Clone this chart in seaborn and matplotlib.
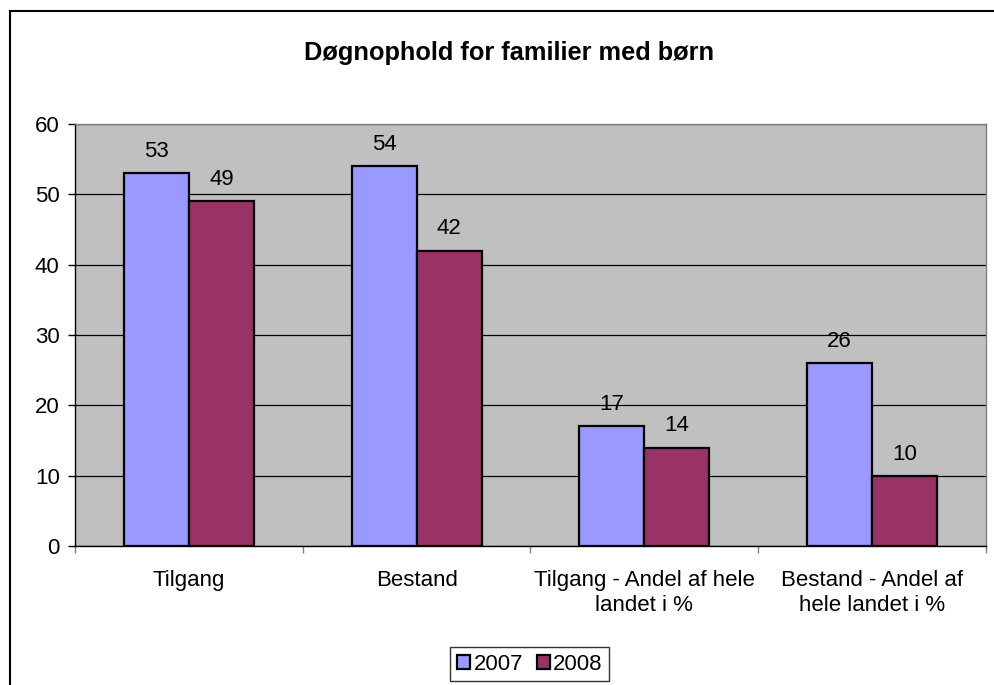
import numpy as np
import pandas as pd
import seaborn as sns
import matplotlib.pyplot as plt
from matplotlib.patches import Rectangle
from matplotlib.ticker import FixedLocator

categories = ['Tilgang', 'Bestand', 'Tilgang - Andel af hele\nlandet i %', 'Bestand - Andel af\nhele landet i %']
years = ['2007', '2008']
values_2007 = [53, 54, 17, 26]
values_2008 = [49, 42, 14, 10]
colors = ['#9999FF', '#993366']

df = pd.DataFrame({
    'kategori': categories * 2,
    'aar': [years[0]] * 4 + [years[1]] * 4,
    'antal': values_2007 + values_2008,
})

sns.set_theme(style='white')
plt.rcParams['font.family'] = ['Liberation Sans', 'DejaVu Sans']
plt.rcParams['text.color'] = 'black'
plt.rcParams['xtick.color'] = 'black'
plt.rcParams['ytick.color'] = 'black'

fs = 16

fig = plt.figure(figsize=(9.95, 6.85), dpi=100)
ax = fig.add_axes([75 / 995, 1 - 546 / 685, 911 / 995, 422 / 685])

sns.barplot(data=df, x='kategori', y='antal', hue='aar', palette=colors,
            width=2 / 3.5, edgecolor='black', linewidth=1.6, ax=ax,
            saturation=1, legend=True)

ax.set_facecolor('#C0C0C0')
ax.set_ylim(0, 60)
ax.set_xlim(-0.5, 3.5)
ax.set_yticks(np.arange(0, 61, 10))
ax.yaxis.grid(True, color='black', linewidth=0.9)
ax.set_axisbelow(True)
ax.set_xlabel('')
ax.set_ylabel('')

for c in ax.containers:
    ax.bar_label(c, padding=8, fontsize=fs)

ax.tick_params(axis='y', which='major', left=True, length=5, width=1,
               color='black', labelsize=fs, pad=6)
ax.tick_params(axis='x', which='major', bottom=False, labelsize=fs, pad=11)
for lbl in ax.get_xticklabels():
    lbl.set_linespacing(1.25)
ax.xaxis.set_minor_locator(FixedLocator([-0.5, 0.5, 1.5, 2.5, 3.5]))
ax.tick_params(axis='x', which='minor', bottom=True, length=5, width=1, color='#808080')

for side in ['top', 'right']:
    ax.spines[side].set_color('#808080')
    ax.spines[side].set_linewidth(1)
ax.spines['left'].set_color('black')
ax.spines['bottom'].set_color('black')
ax.spines['left'].set_linewidth(1)
ax.spines['bottom'].set_linewidth(1)

fig.text(509 / 995, 1 - 53 / 685, 'Døgnophold for familier med børn',
         ha='center', va='center', fontsize=18.3, fontweight='bold')

ax.legend_.remove()
handles = [Rectangle((0, 0), 1, 1, facecolor=col, edgecolor='black', linewidth=1.6) for col in colors]
leg = fig.legend(handles, years, loc='center', bbox_to_anchor=(530 / 995, 1 - 664 / 685),
                 ncol=2, frameon=True, fancybox=False, fontsize=fs,
                 handlelength=0.6, handleheight=0.6, handletextpad=0.15,
                 columnspacing=0.6, borderpad=0.3)
leg.get_frame().set_edgecolor('black')
leg.get_frame().set_linewidth(1)

fig.patches.append(Rectangle((10 / 995, -0.1), 1.2, 1 - 11 / 685 + 0.1,
                             transform=fig.transFigure, fill=False,
                             edgecolor='black', linewidth=1.5))

fig.savefig('out.png', dpi=100)
